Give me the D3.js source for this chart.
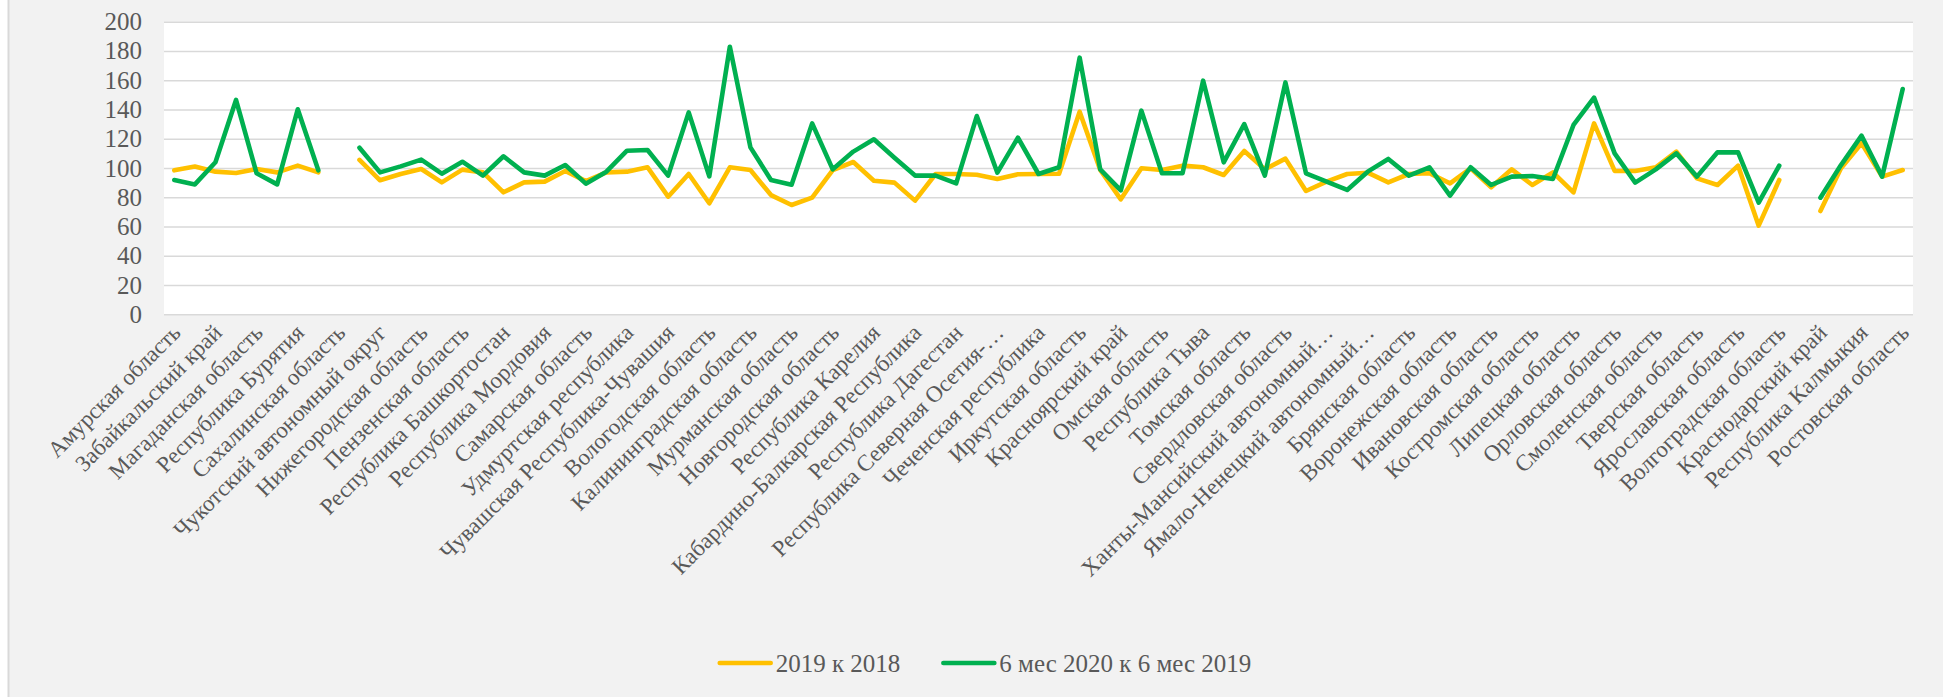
<!DOCTYPE html>
<html>
<head>
<meta charset="utf-8">
<script src="https://cdn.jsdelivr.net/npm/d3@7"></script>
<style>
  body { margin: 0; background: #fff; }
  text { font-family: "Liberation Serif", serif; fill: #595959; }
</style>
</head>
<body>
<svg id="chart" width="1943" height="697"></svg>
<script>
// categories: only every other name is readable on the chart, the rest are null
const categories = [
  "Амурская область", null, "Забайкальский край", null, "Магаданская область", null,
  "Республика Бурятия", null, "Сахалинская область", null, "Чукотский автономный округ", null,
  "Нижегородская область", null, "Пензенская область", null, "Республика Башкортостан", null,
  "Республика Мордовия", null, "Самарская область", null, "Удмуртская республика", null,
  "Чувашская Республика-Чувашия", null, "Вологодская область", null, "Калининградская область", null,
  "Мурманская область", null, "Новгородская область", null, "Республика Карелия", null,
  "Кабардино-Балкарская Республика", null, "Республика Дагестан", null, "Республика Северная Осетия-…", null,
  "Чеченская республика", null, "Иркутская область", null, "Красноярский край", null,
  "Омская область", null, "Республика Тыва", null, "Томская область", null,
  "Свердловская область", null, "Ханты-Мансийский автономный…", null, "Ямало-Ненецкий автономный…", null,
  "Брянская область", null, "Воронежская область", null, "Ивановская область", null,
  "Костромская область", null, "Липецкая область", null, "Орловская область", null,
  "Смоленская область", null, "Тверская область", null, "Ярославская область", null,
  "Волгоградская область", null, "Краснодарский край", null, "Республика Калмыкия", null,
  "Ростовская область"
];

const val2019 = [
  98.4, 101, 97.5, 96.6, 99.3, 97, 101.6, 97, null, 105.5,
  91.6, 95.9, 99.3, 90.2, 98.9, 97, 83.4, 90.2, 90.7, 98,
  91, 97, 97.5, 100.5, 80.4, 95.9, 75.9, 100.5, 98.6, 81.5,
  74.7, 79.7, 98.6, 104.1, 91.3, 90, 77.7, 95.9, 95.9, 95.4,
  92.5, 95.7, 95.9, 96.1, 138.5, 98.6, 78.6, 99.8, 98.6, 101.6,
  100.5, 95.2, 111.6, 99.1, 106.4, 84.3, 90.7, 95.9, 96.8, 90.2,
  95.9, 96.4, 89.5, 99.8, 86.8, 99.1, 88.4, 97, 83.4, 130.5,
  98, 98, 100.5, 111.2, 92.9, 88.4, 101.6, 60.6, 91.8, null,
  70.6, 99.8, 116.9, 94.1, 98.6
];

const val2020 = [
  91.8, 88.8, 103.9, 146.5, 96.4, 88.8, 140.1, 98.4, null, 113.9,
  97, 101.1, 105.7, 96.1, 104.3, 94.8, 108, 97, 94.8, 102,
  89.3, 97.5, 111.8, 112.3, 94.8, 138, 94.3, 182.9, 114.1, 91.8,
  88.6, 130.5, 99.1, 111.2, 119.6, 107, 94.8, 94.8, 89.5, 135.5,
  96.8, 120.7, 95.9, 100.5, 175.4, 99.1, 84.7, 139.2, 96.4, 96.4,
  159.7, 103.9, 130, 94.8, 158.5, 96.4, 90.7, 85, 97.5, 106.2,
  94.8, 100.5, 81.1, 100.5, 88.4, 94.1, 94.5, 92.5, 129.4, 148.1,
  110, 90, 99.1, 110, 94.1, 110.7, 110.7, 76.3, 101.6, null,
  79.7, 102, 122.1, 94.1, 154
];

const yTicks = [0, 20, 40, 60, 80, 100, 120, 140, 160, 180, 200];
const seriesNames = ["2019 к 2018", "6 мес 2020 к 6 мес 2019"];
const seriesColors = ["#FFC000", "#00B050"];

const svg = d3.select("#chart");
const W = 1943, H = 697;
const plot = { left: 164, right: 1913, top: 21.7, bottom: 314.3 };

// chart background + left border
svg.append("rect").attr("x", 9).attr("y", 0).attr("width", W - 9).attr("height", H).attr("fill", "#f2f2f2");
svg.append("line").attr("x1", 8.5).attr("x2", 8.5).attr("y1", 0).attr("y2", H)
  .attr("stroke", "#d9d9d9").attr("stroke-width", 2);

svg.append("rect")
  .attr("x", plot.left).attr("y", plot.top)
  .attr("width", plot.right - plot.left).attr("height", plot.bottom - plot.top)
  .attr("fill", "#fff");

const x = d3.scaleBand().domain(d3.range(categories.length)).range([plot.left, plot.right]);
const y = d3.scaleLinear().domain([0, 200]).range([plot.bottom, plot.top]);
const cx = i => x(i) + x.bandwidth() / 2;

// gridlines
svg.append("g")
  .attr("transform", `translate(${plot.left},0)`)
  .call(d3.axisLeft(y).tickValues(yTicks).tickSize(-(plot.right - plot.left)).tickFormat(""))
  .call(g => g.select(".domain").remove())
  .call(g => g.selectAll("line").attr("stroke", "#d9d9d9").attr("stroke-width", 1.6));

// y axis labels
svg.append("g")
  .attr("transform", `translate(${plot.left},0)`)
  .call(d3.axisLeft(y).tickValues(yTicks).tickSize(0).tickPadding(22))
  .call(g => g.select(".domain").remove())
  .call(g => g.selectAll("text").attr("font-size", 25).style("font-family", null));

// x axis labels, every other category
const labelIdx = d3.range(categories.length).filter(i => categories[i] !== null);
svg.append("g")
  .attr("transform", `translate(0,${plot.bottom})`)
  .call(d3.axisBottom(x).tickValues(labelIdx).tickFormat(i => categories[i]).tickSize(0))
  .call(g => g.select(".domain").remove())
  .call(g => g.selectAll("text")
    .attr("font-size", 23)
    .attr("text-anchor", "end")
    .attr("x", 0).attr("y", 0).attr("dy", "0.35em")
    .attr("transform", "translate(2,14) rotate(-45)"));

// lines
const line = d3.line()
  .defined(d => d != null)
  .x((d, i) => cx(i))
  .y(d => y(d));

[val2019, val2020].forEach((vals, k) => {
  svg.append("path")
    .datum(vals)
    .attr("fill", "none")
    .attr("stroke", seriesColors[k])
    .attr("stroke-width", 4.6)
    .attr("stroke-linejoin", "round")
    .attr("stroke-linecap", "round")
    .attr("d", line);
});

// legend
const legend = svg.append("g");
let lx = 0;
seriesNames.forEach((name, k) => {
  const item = legend.append("g").attr("transform", `translate(${lx},0)`);
  item.append("line").attr("x1", 3).attr("x2", 54).attr("y1", 0).attr("y2", 0)
    .attr("stroke", seriesColors[k]).attr("stroke-width", 4.6).attr("stroke-linecap", "round");
  const t = item.append("text").attr("x", 59).attr("y", 0).attr("dy", "0.35em")
    .attr("font-size", 25).text(name);
  lx += 59 + t.node().getComputedTextLength() + 40;
});
const legendW = lx - 40;
legend.attr("transform", `translate(${984 - legendW / 2},663)`);
</script>
</body>
</html>
